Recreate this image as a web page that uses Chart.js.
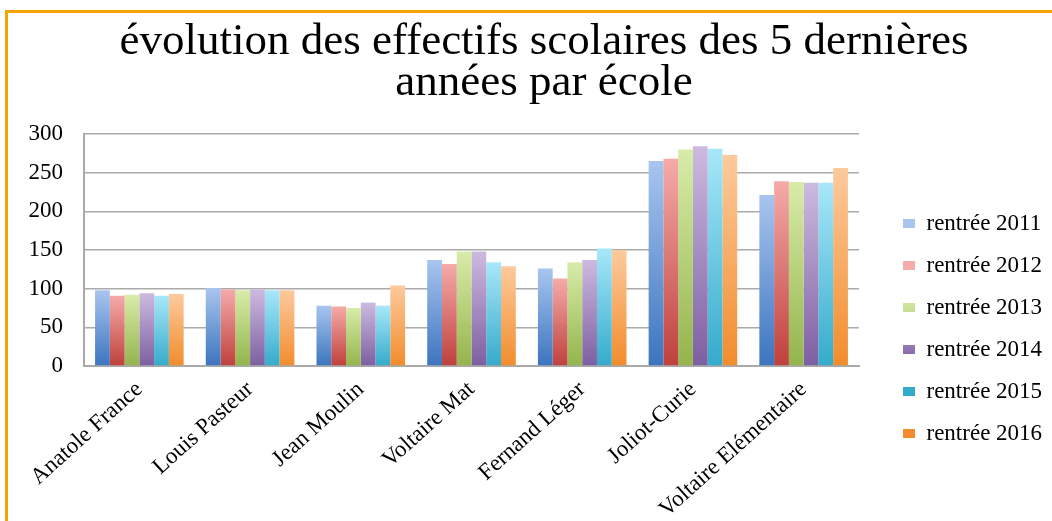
<!DOCTYPE html>
<html>
<head>
<meta charset="utf-8">
<script src="https://cdn.jsdelivr.net/npm/chart.js@4"></script>
<style>
  html, body { margin: 0; padding: 0; background: #fff; }
  #cadre { position: absolute; left: 5px; top: 10px; width: 1100px; height: 600px;
           border-top: 3px solid #f7a400; border-left: 3px solid #f7a400; }
  #zone { position: absolute; left: 0; top: 0; width: 1052px; height: 521px; }
</style>
</head>
<body>
<div id="cadre"></div>
<div id="zone"><canvas id="myChart" width="1052" height="521"></canvas></div>
<script>
var ecoles = ['Anatole France', 'Louis Pasteur', 'Jean Moulin', 'Voltaire Mat',
              'Fernand Léger', 'Joliot-Curie', 'Voltaire Elémentaire'];
var annees = ['rentrée 2011', 'rentrée 2012', 'rentrée 2013',
              'rentrée 2014', 'rentrée 2015', 'rentrée 2016'];

var eff_2011 = [98, 101, 78, 137, 126, 265, 221];
var eff_2012 = [91, 99, 77, 132, 113, 268, 239];
var eff_2013 = [92, 98, 75, 148, 134, 280, 238];
var eff_2014 = [94, 99, 82, 148, 137, 284, 237];
var eff_2015 = [91, 98, 78, 134, 152, 281, 237];
var eff_2016 = [93, 98, 104, 129, 150, 273, 256];

var ticks_y = [0, 50, 100, 150, 200, 250, 300];

var police = 'Liberation Serif, Times New Roman, serif';
var gris = '#aaaaaa';

// degrade vertical sur chaque barre (clair en haut, fonce en bas)
function degrade(haut, bas, plein) {
  return function(ctx) {
    var chart = ctx.chart;
    if (ctx.raw === undefined || !chart.chartArea) return plein;
    var y = chart.scales.y;
    var g = chart.ctx.createLinearGradient(0, y.getPixelForValue(ctx.raw), 0, y.getPixelForValue(0));
    g.addColorStop(0, haut);
    g.addColorStop(1, bas);
    return g;
  };
}

// place la legende et le titre comme sur l'image
var placeLegende = {
  id: 'placeLegende',
  beforeInit: function(chart) {
    var fit = chart.legend.fit;
    chart.legend.fit = function() {
      fit.call(this);
      this.width = 193;
    };
  },
  afterLayout: function(chart) {
    var lg = chart.legend;
    var pad = lg.options.labels.padding;
    lg.left = 903 - pad;
    lg.top = 212 - pad;
    chart.titleBlock.left = 36; // titre un peu decale vers la droite
  }
};

new Chart(document.getElementById('myChart'), {
  type: 'bar',
  data: {
    labels: ecoles,
    datasets: [
      { label: annees[0], data: eff_2011, backgroundColor: degrade('#a9c5ef', '#3b74bf', '#5a8fd6') },
      { label: annees[1], data: eff_2012, backgroundColor: degrade('#f5aba9', '#bf403c', '#da625e') },
      { label: annees[2], data: eff_2013, backgroundColor: degrade('#d8eca9', '#94b44c', '#b0d172') },
      { label: annees[3], data: eff_2014, backgroundColor: degrade('#cdbae0', '#7c5fa1', '#9c81c0') },
      { label: annees[4], data: eff_2015, backgroundColor: degrade('#a8e7f9', '#34abcb', '#5cc9e2') },
      { label: annees[5], data: eff_2016, backgroundColor: degrade('#fdca9c', '#f28c2c', '#f8a65c') }
    ]
  },
  options: {
    responsive: false,
    animation: false,
    layout: { padding: 0 },
    datasets: { bar: { categoryPercentage: 0.8, barPercentage: 1.0 } },
    scales: {
      x: {
        grid: { display: false, drawTicks: false },
        border: { display: true, color: gris, width: 2 },
        ticks: { color: '#000', font: { family: police, size: 23 },
                 minRotation: 42, maxRotation: 42, padding: 10, autoSkip: false },
        afterFit: function(s) { s.height = 155; }
      },
      y: {
        min: 0, max: 300,
        grid: { color: gris, lineWidth: 1.5, drawTicks: false },
        border: { display: true, color: gris, width: 2 },
        afterBuildTicks: function(s) { s.ticks = ticks_y.map(function(v) { return { value: v }; }); },
        ticks: { color: '#000', font: { family: police, size: 23 }, padding: 21 },
        afterFit: function(s) { s.width = 84; }
      }
    },
    plugins: {
      title: {
        display: true,
        text: ['évolution des effectifs scolaires des 5 dernières', 'années par école'],
        color: '#000',
        font: { family: police, size: 45, weight: 'normal', lineHeight: 0.9 },
        padding: { top: 22, bottom: 31 }
      },
      legend: {
        position: 'right',
        align: 'start',
        labels: { color: '#000', font: { family: police, size: 23 },
                  boxWidth: 12, boxHeight: 9, padding: 19 }
      },
      tooltip: { enabled: false }
    }
  },
  plugins: [placeLegende]
});
</script>
</body>
</html>
